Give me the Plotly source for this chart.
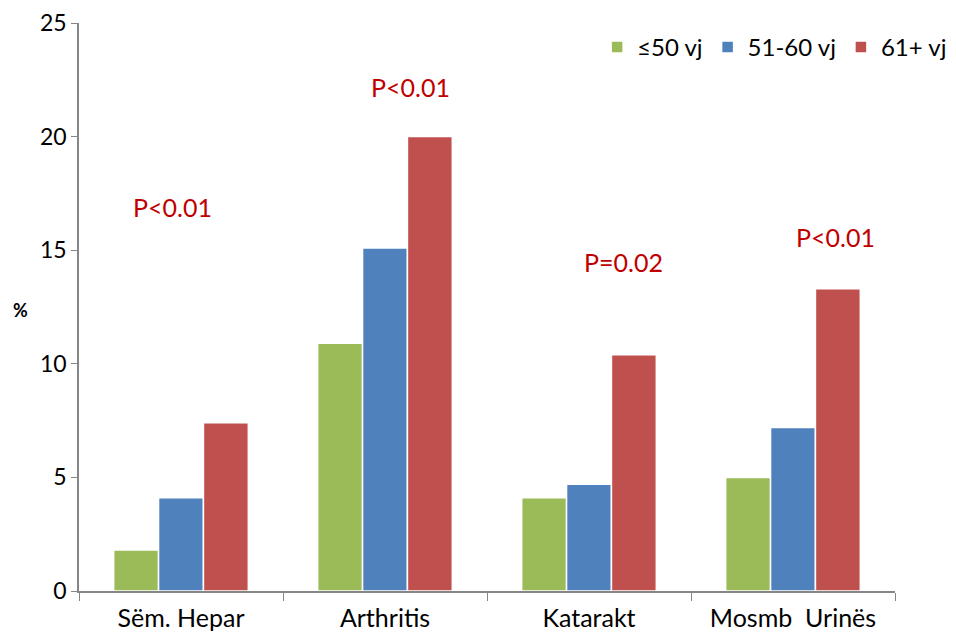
import plotly.graph_objects as go

categories = ["Sëm. Hepar", "Arthritis", "Katarakt", "Mosmb  Urinës"]
series_names = ["≤50 vj", "51-60 vj", "61+ vj"]
le50 = [1.8, 10.9, 4.1, 5.0]
s51_60 = [4.1, 15.1, 4.7, 7.2]
s61 = [7.4, 20.0, 10.4, 13.3]
colors = ["#9BBB59", "#4F81BD", "#C0504D"]
p_labels = ["P<0.01", "P<0.01", "P=0.02", "P<0.01"]
p_y = [16.9, 22.2, 14.5, 15.6]
p_x = [-0.044, 1.127, 2.167, 3.206]

FONT = "Lato, 'Open Sans', sans-serif"

fig = go.Figure()
for name, vals, col in zip(series_names, [le50, s51_60, s61], colors):
    fig.add_trace(go.Bar(
        x=categories, y=vals, name=name,
        marker=dict(color=col, line=dict(color="white", width=1.5)),
    ))

for lab, px, py in zip(p_labels, p_x, p_y):
    fig.add_annotation(x=px, y=py, xref="x", yref="y", text=lab, showarrow=False,
                       font=dict(size=25, color="#C00000", family=FONT))

fig.add_annotation(x=-0.072, y=12.35, xref="paper", yref="y", text="<b>%</b>", showarrow=False,
                   xanchor="center", font=dict(size=18, color="black", family=FONT))

fig.update_layout(
    width=956, height=636,
    paper_bgcolor="white", plot_bgcolor="white",
    margin=dict(l=71, r=69, t=15, b=53, autoexpand=False),
    barmode="group", bargap=0.34, bargroupgap=0,
    font=dict(family=FONT, size=22, color="black"),
    legend=dict(orientation="h", x=1.07, xanchor="right", y=0.957, yanchor="middle",
                font=dict(size=24), traceorder="normal", itemwidth=30),
    showlegend=True,
)
fig.update_xaxes(showline=True, linecolor="#868686", linewidth=1.5, ticks="outside",
                 tickson="boundaries", ticklen=8, tickcolor="#868686", showgrid=False,
                 tickfont=dict(size=25), ticklabelstandoff=4)
fig.update_yaxes(range=[0, 25], dtick=5, showline=True, linecolor="#868686", linewidth=1.5,
                 ticks="outside", ticklen=6, tickcolor="#868686", showgrid=False,
                 zeroline=False, tickfont=dict(size=23))

fig.write_html("out.html")
